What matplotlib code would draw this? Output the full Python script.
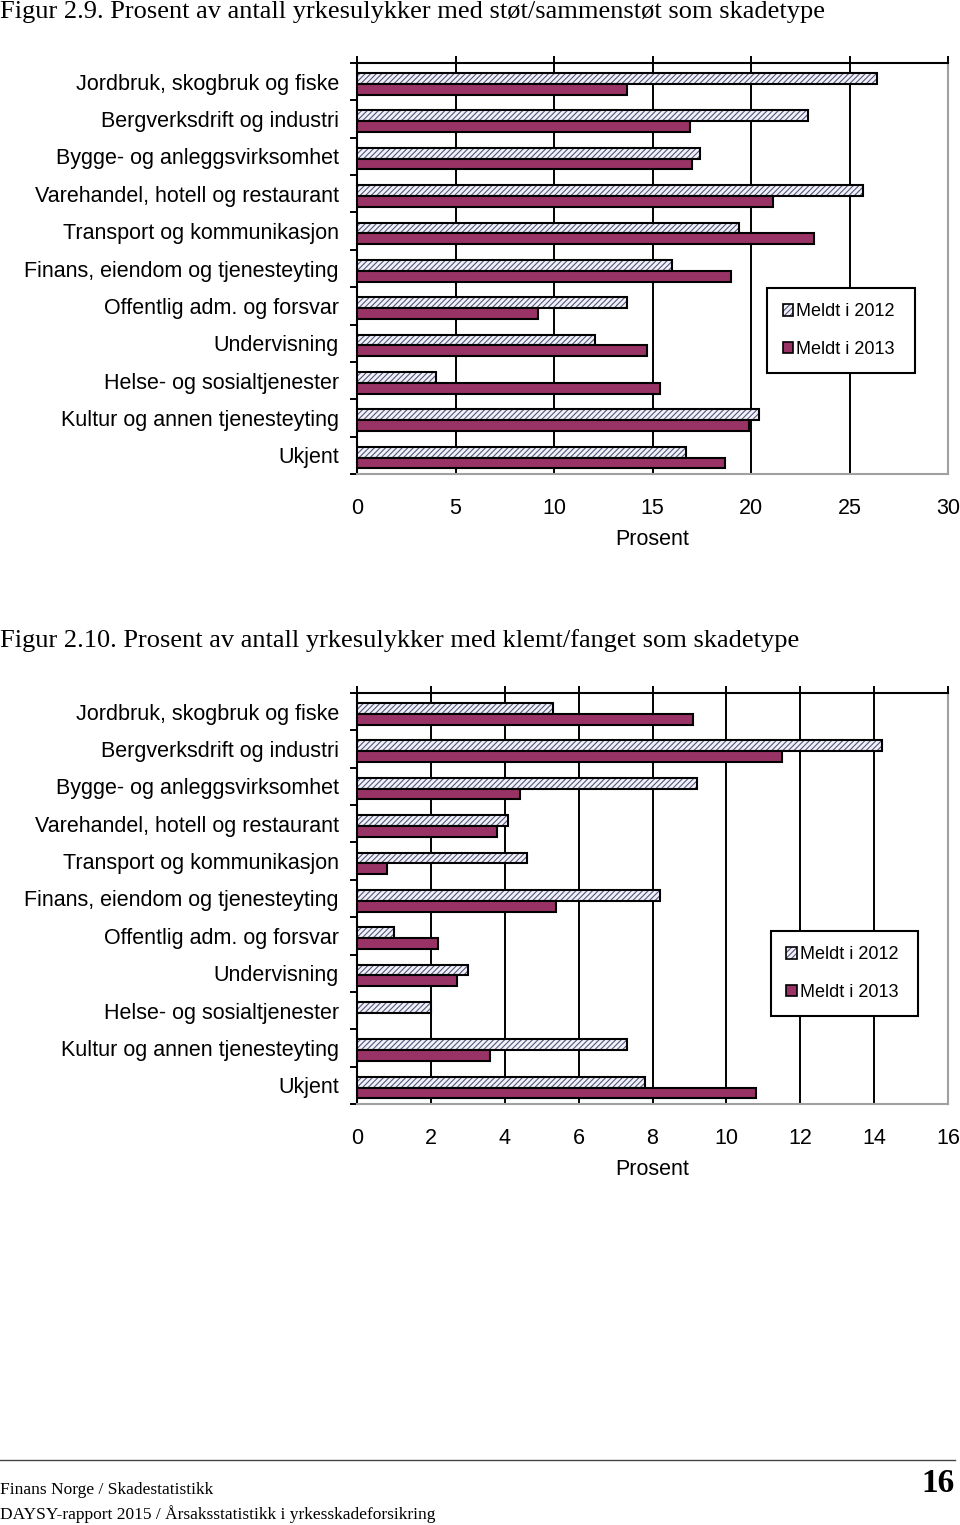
import matplotlib
matplotlib.use("Agg")
import matplotlib.pyplot as plt
import numpy as np
from matplotlib.patches import Patch
from matplotlib.lines import Line2D

plt.rcParams["font.family"] = ["Liberation Sans", "DejaVu Sans"]
plt.rcParams["hatch.linewidth"] = 0.8

# ---------------------------------------------------------------------------
# Data
# ---------------------------------------------------------------------------
categories = [
    "Jordbruk, skogbruk og fiske",
    "Bergverksdrift og industri",
    "Bygge- og anleggsvirksomhet",
    "Varehandel, hotell og restaurant",
    "Transport og kommunikasjon",
    "Finans, eiendom og tjenesteyting",
    "Offentlig adm. og forsvar",
    "Undervisning",
    "Helse- og sosialtjenester",
    "Kultur og annen tjenesteyting",
    "Ukjent",
]

# Figur 2.9 - støt/sammenstøt
stot_2012 = [26.4, 22.9, 17.4, 25.7, 19.4, 16.0, 13.7, 12.1, 4.0, 20.4, 16.7]
stot_2013 = [13.7, 16.9, 17.0, 21.1, 23.2, 19.0, 9.2, 14.7, 15.4, 19.9, 18.7]

# Figur 2.10 - klemt/fanget
klemt_2012 = [5.3, 14.2, 9.2, 4.1, 4.6, 8.2, 1.0, 3.0, 2.0, 7.3, 7.8]
klemt_2013 = [9.1, 11.5, 4.4, 3.8, 0.8, 5.4, 2.2, 2.7, 0.0, 3.6, 10.8]

series_labels = ["Meldt i 2012 ", "Meldt i 2013 "]

title_1 = "Figur 2.9. Prosent av antall yrkesulykker med støt/sammenstøt som skadetype"
title_2 = "Figur 2.10. Prosent av antall yrkesulykker med klemt/fanget som skadetype"

COL_2013 = "#993366"
COL_2012_FACE = "#f2f2fa"
COL_2012_HATCH = "#55557a"
FS = 15.5


def draw_panel(ax, v2012, v2013, xmax, xstep, legend_anchor):
    y = np.arange(len(categories))
    h = 0.29
    off = 0.06
    # 2012: hatched fill then black outline
    ax.barh(y - h / 2 + off, v2012, height=h, color=COL_2012_FACE,
            edgecolor=COL_2012_HATCH, hatch="//////", linewidth=0, zorder=3)
    ax.barh(y - h / 2 + off, v2012, height=h, color="none",
            edgecolor="black", linewidth=1.5, zorder=4)
    ax.barh(y + h / 2 + off, v2013, height=h, color=COL_2013,
            edgecolor="black", linewidth=1.5, zorder=4)

    ax.set_ylim(len(categories) - 0.5, -0.5)
    ax.set_xlim(0, xmax)
    ax.set_xticks(np.arange(0, xmax + 0.01, xstep))
    ax.xaxis.grid(True, color="black", linewidth=1.4, zorder=0)
    ax.set_axisbelow(True)

    ax.set_yticks(y)
    ax.set_yticklabels(categories, fontsize=FS)
    ax.set_yticks(np.arange(-0.5, len(categories)), minor=True)
    ax.tick_params(axis="y", which="major", length=0, pad=13)
    ax.tick_params(axis="y", which="minor", length=5, width=1.4,
                   direction="out")
    ax.tick_params(axis="x", top=True, bottom=False, labeltop=False,
                   labelbottom=True, length=5, width=1.4, direction="out",
                   pad=12.5, labelsize=FS)
    ax.set_xlabel("Prosent", fontsize=FS, labelpad=7)

    for s in ("left", "top"):
        ax.spines[s].set_color("black")
        ax.spines[s].set_linewidth(1.5)
    for s in ("right", "bottom"):
        ax.spines[s].set_color("#a0a0a0")
        ax.spines[s].set_linewidth(1.5)

    hatched = Patch(facecolor=COL_2012_FACE, edgecolor=COL_2012_HATCH,
                    hatch="//////", linewidth=0)
    outline = Patch(facecolor="none", edgecolor="black", linewidth=1.2)
    solid = Patch(facecolor=COL_2013, edgecolor="black", linewidth=1.2)
    leg = ax.legend([(hatched, outline), solid], series_labels,
                    loc="upper left", bbox_to_anchor=legend_anchor,
                    borderaxespad=0, frameon=True, fancybox=False,
                    fontsize=13, handlelength=0.6, handleheight=0.6,
                    handletextpad=0.15, labelspacing=1.15, borderpad=0.85,
                    framealpha=1)
    leg.get_frame().set_edgecolor("black")
    leg.get_frame().set_linewidth(1.5)
    leg.set_zorder(6)


fig = plt.figure(figsize=(9.6, 15.25), dpi=100)
W, H = 960, 1525


def axes_px(left, top, right, bottom):
    return fig.add_axes([left / W, 1 - bottom / H, (right - left) / W,
                         (bottom - top) / H])


ax1 = axes_px(357, 63, 948, 474)
draw_panel(ax1, stot_2012, stot_2013, 30, 5, (0.694, 0.453))

ax2 = axes_px(357, 693, 948, 1104)
draw_panel(ax2, klemt_2012, klemt_2013, 16, 2, (0.70, 0.421))

serif = ["Liberation Serif", "DejaVu Serif"]
fig.text(0, 1 - 12 / H, title_1, family=serif, fontsize=19,
         va="center", ha="left")
fig.text(0, 1 - 641 / H, title_2, family=serif, fontsize=19,
         va="center", ha="left")

# footer
fig.add_artist(Line2D([0, 955 / W], [1 - 1460 / H] * 2, color="#444444",
                      linewidth=1.0))
fig.text(0, 1 - 1490 / H, "Finans Norge / Skadestatistikk", family=serif,
         fontsize=12.5, va="center", ha="left")
fig.text(0, 1 - 1514 / H,
         "DAYSY-rapport 2015 / Årsaksstatistikk i yrkesskadeforsikring",
         family=serif, fontsize=12.5, va="center", ha="left")
fig.text(955 / W, 1 - 1484 / H, "16", family=serif, fontsize=24,
         weight="bold", va="center", ha="right")

fig.savefig("out.png", dpi=100)
